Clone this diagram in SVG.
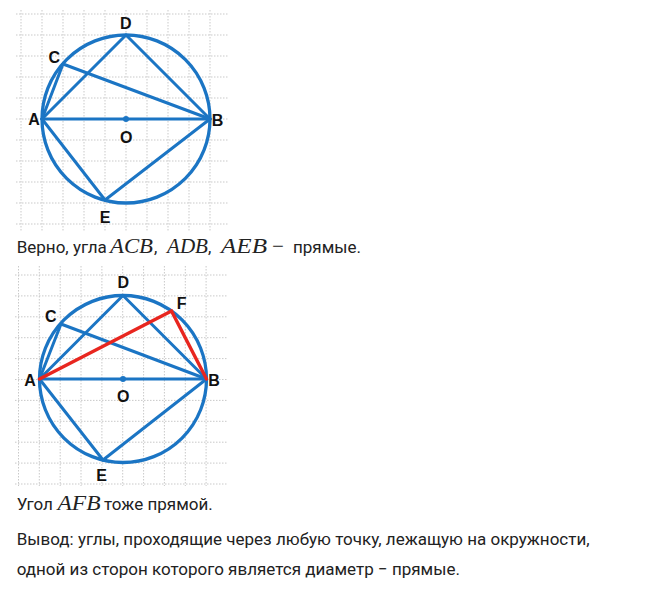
<svg xmlns="http://www.w3.org/2000/svg" width="646" height="600" viewBox="0 0 646 600">
<style>
.grid line{stroke:#c9c9c9;stroke-width:1;stroke-dasharray:1.5 1.5}
.circ{fill:none;stroke:#1b75c4;stroke-width:3.3}
.blue line{stroke:#1b75c4;stroke-width:3;stroke-linecap:round}
.red line{stroke:#e8261f;stroke-width:3.4;stroke-linecap:round}
.dot{fill:#1b75c4}
.lbl{font-family:"Liberation Sans",Arial,sans-serif;font-weight:bold;font-size:16px;fill:#111;text-anchor:middle}
.txt{font-family:Roboto,"Noto Sans",sans-serif;font-size:17px;fill:#222}
.math{font-family:"Liberation Serif","Times New Roman",serif;font-style:italic;font-size:21px;fill:#222}
.mop{font-family:"Liberation Serif","Times New Roman",serif;font-size:21px;fill:#222}
</style>
<rect width="646" height="600" fill="#fff"/>

<!-- Figure 1 -->
<g id="figure1">
<g class="grid">
<line x1="21" y1="10" x2="21" y2="232"/><line x1="42" y1="10" x2="42" y2="232"/><line x1="63" y1="10" x2="63" y2="232"/><line x1="84" y1="10" x2="84" y2="232"/><line x1="105" y1="10" x2="105" y2="232"/><line x1="126" y1="10" x2="126" y2="232"/><line x1="147" y1="10" x2="147" y2="232"/><line x1="168" y1="10" x2="168" y2="232"/><line x1="189" y1="10" x2="189" y2="232"/><line x1="210" y1="10" x2="210" y2="232"/>
<line x1="16" y1="14" x2="228" y2="14"/><line x1="16" y1="35" x2="228" y2="35"/><line x1="16" y1="56" x2="228" y2="56"/><line x1="16" y1="77" x2="228" y2="77"/><line x1="16" y1="98" x2="228" y2="98"/><line x1="16" y1="119" x2="228" y2="119"/><line x1="16" y1="140" x2="228" y2="140"/><line x1="16" y1="161" x2="228" y2="161"/><line x1="16" y1="182" x2="228" y2="182"/><line x1="16" y1="203" x2="228" y2="203"/><line x1="16" y1="224" x2="228" y2="224"/>
</g>
<circle id="circle1" class="circ" cx="126" cy="119" r="84"/>
<g id="chords1" class="blue">
<line x1="42" y1="119" x2="210" y2="119"/>
<line x1="42" y1="119" x2="126" y2="35"/>
<line x1="126" y1="35" x2="210" y2="119"/>
<line x1="42" y1="119" x2="63" y2="64"/>
<line x1="63" y1="64" x2="210" y2="119"/>
<line x1="42" y1="119" x2="105" y2="200"/>
<line x1="105" y1="200" x2="210" y2="119"/>
</g>
<circle id="O1" class="dot" cx="126" cy="119" r="3"/>
<g id="labels1">
<text class="lbl" x="125.7" y="29">D</text>
<text class="lbl" x="54.3" y="62.5">C</text>
<text class="lbl" x="34" y="125">A</text>
<text class="lbl" x="217.5" y="125.5">B</text>
<text class="lbl" x="126.3" y="142.5">O</text>
<text class="lbl" x="105" y="223">E</text>
</g>
</g>

<g id="text1">
<text class="txt" x="16.7" y="253">Верно, угла</text>
<text class="math" x="110" y="253" textLength="43" lengthAdjust="spacingAndGlyphs">ACB</text>
<text class="txt" x="154" y="253">,</text>
<text class="math" x="167" y="253" textLength="41" lengthAdjust="spacingAndGlyphs">ADB</text>
<text class="txt" x="208" y="253">,</text>
<text class="math" x="221" y="253" textLength="46" lengthAdjust="spacingAndGlyphs">AEB</text>
<text class="mop" x="272" y="253">−</text>
<text class="txt" x="293" y="253">прямые.</text>
</g>

<!-- Figure 2 -->
<g id="figure2">
<g class="grid">
<line x1="18.5" y1="266" x2="18.5" y2="486"/><line x1="39.3" y1="266" x2="39.3" y2="486"/><line x1="60.2" y1="266" x2="60.2" y2="486"/><line x1="81" y1="266" x2="81" y2="486"/><line x1="101.9" y1="266" x2="101.9" y2="486"/><line x1="122.7" y1="266" x2="122.7" y2="486"/><line x1="143.6" y1="266" x2="143.6" y2="486"/><line x1="164.4" y1="266" x2="164.4" y2="486"/><line x1="185.3" y1="266" x2="185.3" y2="486"/><line x1="206.1" y1="266" x2="206.1" y2="486"/>
<line x1="15" y1="275" x2="228" y2="275"/><line x1="15" y1="295.9" x2="228" y2="295.9"/><line x1="15" y1="316.8" x2="228" y2="316.8"/><line x1="15" y1="337.7" x2="228" y2="337.7"/><line x1="15" y1="358.6" x2="228" y2="358.6"/><line x1="15" y1="379.5" x2="228" y2="379.5"/><line x1="15" y1="400.4" x2="228" y2="400.4"/><line x1="15" y1="421.3" x2="228" y2="421.3"/><line x1="15" y1="442.2" x2="228" y2="442.2"/><line x1="15" y1="463.1" x2="228" y2="463.1"/><line x1="15" y1="484" x2="228" y2="484"/>
</g>
<circle id="circle2" class="circ" cx="123" cy="379" r="83.5"/>
<g id="chords2" class="blue">
<line x1="39.5" y1="379" x2="206.5" y2="379"/>
<line x1="39.5" y1="379" x2="123" y2="295.5"/>
<line x1="123" y1="295.5" x2="206.5" y2="379"/>
<line x1="39.5" y1="379" x2="61" y2="324"/>
<line x1="61" y1="324" x2="206.5" y2="379"/>
<line x1="39.5" y1="379" x2="103" y2="460"/>
<line x1="103" y1="460" x2="206.5" y2="379"/>
</g>
<g id="chords2red" class="red">
<line x1="39.5" y1="379" x2="171.5" y2="311"/>
<line x1="171.5" y1="311" x2="206.5" y2="379"/>
</g>
<circle id="O2" class="dot" cx="123" cy="379" r="3"/>
<g id="labels2">
<text class="lbl" x="123.3" y="287.5">D</text>
<text class="lbl" x="181.7" y="308.5">F</text>
<text class="lbl" x="50.7" y="321.5">C</text>
<text class="lbl" x="30" y="385.5">A</text>
<text class="lbl" x="214" y="385.5">B</text>
<text class="lbl" x="123.3" y="401.5">O</text>
<text class="lbl" x="101.7" y="480.5">E</text>
</g>
</g>

<g id="text2">
<text class="txt" x="16.7" y="510">Угол</text>
<text class="math" x="57.5" y="510" textLength="43" lengthAdjust="spacingAndGlyphs">AFB</text>
<text class="txt" x="104" y="510">тоже прямой.</text>
<text class="txt" x="16.7" y="545">Вывод: углы, проходящие через любую точку, лежащую на окружности,</text>
<text class="txt" x="16.7" y="575">одной из сторон которого является диаметр − прямые.</text>
</g>
</svg>
